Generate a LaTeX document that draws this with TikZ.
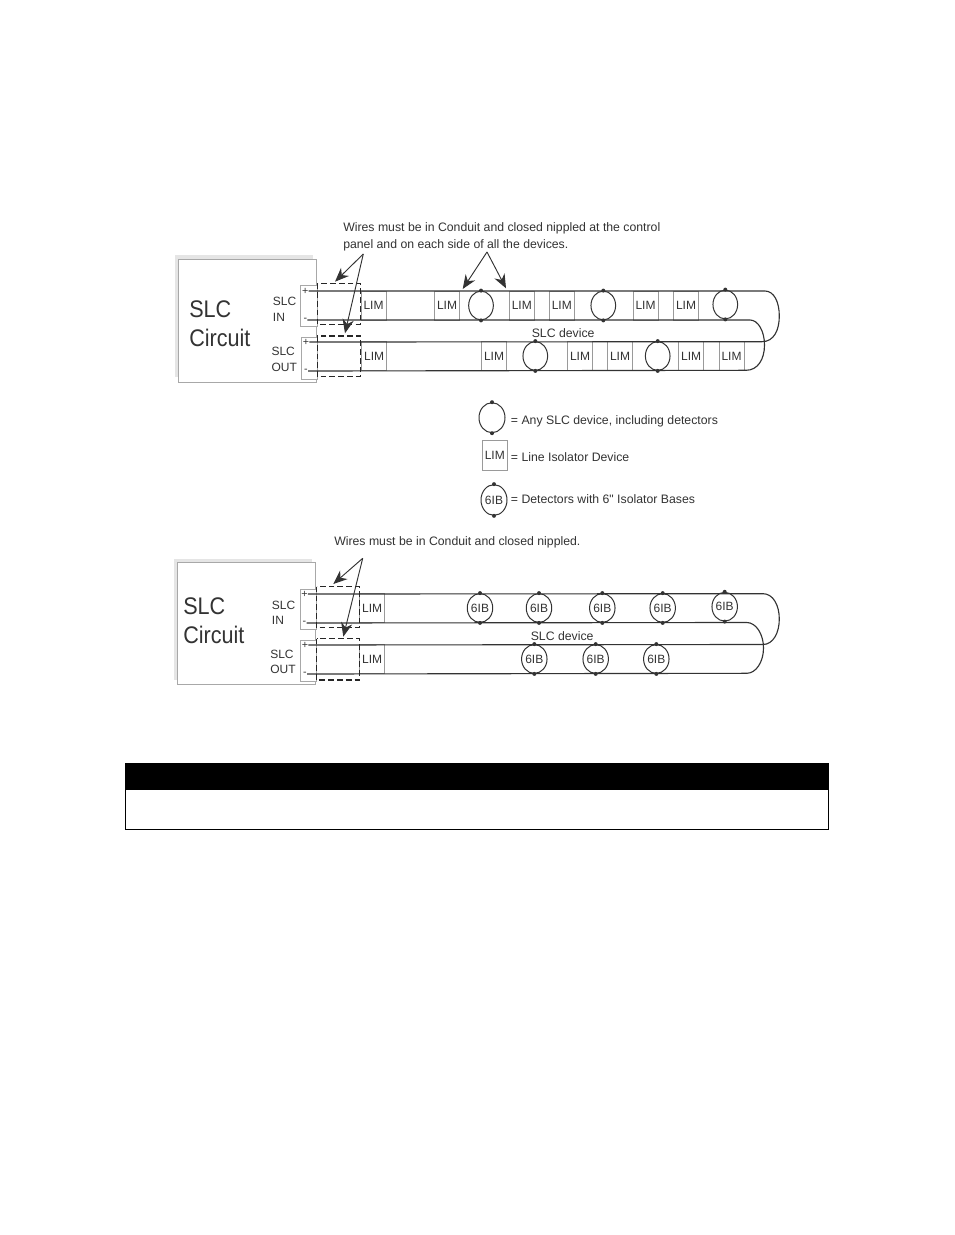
\documentclass[tikz,border=0pt]{standalone}
\usepackage{fontspec}
\setmainfont{Liberation Sans}
\newfontfamily\plainfont{Liberation Sans}
\newfontfamily\tallfont[FakeStretch=0.9]{Liberation Sans}
\usetikzlibrary{shapes.geometric,arrows.meta}
\definecolor{ink}{HTML}{333333}
\definecolor{soft}{HTML}{A8A8A8}
\definecolor{limline}{HTML}{9A9A9A}
\newcommand{\fs}[1]{\fontsize{#1}{#1}\selectfont}
\tikzset{
  x=0.75pt,y=-0.75pt,
  panel/.style={draw=soft,fill=white,line width=0.75pt},
  shadow/.style={fill=black!10,draw=none},
  term/.style={draw=soft,fill=white,line width=0.6pt},
  wire/.style={draw=ink,line width=0.85pt},
  conduit/.style={draw=black!85,line width=1.1pt,dash pattern=on 4.3pt off 2.3pt},
  pointer/.style={draw=ink,line width=0.7pt,-{Stealth[length=10.5pt,width=8.5pt]}},
  limbox/.style={draw=limline,line width=0.6pt,minimum width=18.75pt,minimum height=21.6pt,inner sep=0pt,text=ink,font=\fs{9}},
  dev/.style={ellipse,draw=ink,line width=0.75pt,minimum width=18.5pt,minimum height=21.6pt,inner sep=0pt,text=ink,font=\fs{9}},
  lbl/.style={anchor=west,inner sep=0pt,text=ink},
  big/.style={lbl,font=\tallfont\fs{18}},
  small/.style={lbl,font=\fs{9}},
  note/.style={lbl,font=\fs{9.2}},
  sign/.style={inner sep=0pt,text=ink,font=\fs{8}},
  dot/.style={circle,fill=ink,inner sep=0pt,minimum size=3pt},
}
\newcommand{\devdots}[1]{\node[dot] (#1t) at (#1.north) {};\node[dot] (#1b) at (#1.south) {};}
\begin{document}
\begin{tikzpicture}
\useasboundingbox (0,0) rectangle (954,1235);
\fill[white] (0,0) rectangle (954,1235);

% ---------- upper diagram
\fill[shadow] (175,255) rectangle (313,377);
\draw[panel] (178.7,259.3) rectangle (316.7,382.3);
\draw[term] (300.7,285) rectangle (317,326);
\draw[term] (301.7,337.7) rectangle (317,379);
\node[big] (a1) at (189,309) {SLC};
\node[big] (a2) at (189,338) {Circuit};
\node[small] (a3) at (272.7,301) {SLC};
\node[small] (a4) at (272.7,317) {IN};
\node[small] (a5) at (271.3,351) {SLC};
\node[small] (a6) at (271.3,367) {OUT};
\node[sign] (ap1) at (305.3,291) {+};
\node[sign] (am1) at (305.3,320) {-};
\node[sign] (ap2) at (306,342) {+};
\node[sign] (am2) at (306,371) {-};

\foreach \n/\cx in {t1/373.5,t2/447,t3/521.8,t4/561.8,t5/645.5,t6/686}{
  \node[limbox] (\n) at (\cx,305.5) {LIM};}
\foreach \n/\cx in {b1/374.2,b2/494,b3/580,b4/620,b5/691.2,b6/731.5}{
  \node[limbox] (\n) at (\cx,356) {LIM};}
\foreach \n/\cx/\cy in {d1/481/305.5,d2/603.3/305.5,d3/725.3/304.5,d4/535.3/356,d5/657.7/356}{
  \node[dev] (\n) at (\cx,\cy) {};}

\coordinate (aw1s) at (ap1.east);
\coordinate (aw2s) at (am1.east);
\coordinate (aw3s) at (ap2.east);
\coordinate (aw4s) at (am2.east);
\coordinate (aw1e) at (765,291);
\coordinate (aw2e) at (750,320);
\coordinate (aw3e) at (762,341.7);
\coordinate (aw4e) at (746,370.3);
\draw[wire] (aw1s) -- (aw1e) .. controls (774,291) and (779.3,302) .. (779.3,316) .. controls (779.3,330) and (774,341.7) .. (aw3e) -- (aw3s);
\draw[wire] (aw2s) -- (aw2e) .. controls (758,320) and (764.5,331) .. (764.5,345) .. controls (764.5,359) and (758,370.3) .. (aw4e) -- (aw4s);
\foreach \n in {d1,d2,d3,d4,d5}{\devdots{\n}}

\node[small,font=\fs{9.2}] (asl) at (531.5,333.3) {SLC device};
\draw[conduit] (317.3,283.3) rectangle (360.3,324.3);
\draw[conduit] (317.3,336) rectangle (360.3,376.7);
\node[note] (an1) at (343,228) {Wires must be in Conduit and closed nippled at the control};
\node[note] (an2) at (343,245) {panel and on each side of all the devices.};
\coordinate (aap) at (363.3,254);
\coordinate (aq1) at (335,281.7);
\coordinate (aq2) at (345,333.3);
\draw[pointer] (aap) -- (aq1);
\draw[pointer] (aap) -- (aq2);
\coordinate (abp) at (487,252);
\coordinate (ar1) at (462.7,289);
\coordinate (ar2) at (506,288.3);
\draw[pointer] (abp) -- (ar1);
\draw[pointer] (abp) -- (ar2);

% ---------- legend
\node[dev,minimum width=19.5pt,minimum height=22.5pt] (k1) at (492,417.7) {};\devdots{k1}
\node[limbox,minimum height=22.2pt] (k2) at (494.8,455.5) {LIM};
\node[dev,minimum width=19.5pt,minimum height=23pt] (k3) at (494,500) {6IB};\devdots{k3}
\node[note] (k1t) at (510.7,421) {= Any SLC device, including detectors};
\node[note] (k2t) at (510.7,457) {= Line Isolator Device};
\node[note] (k3t) at (510.7,499) {= Detectors with 6{\plainfont"} Isolator Bases};

% ---------- lower diagram
\fill[shadow] (174,559) rectangle (312,680);
\draw[panel] (177.3,562.3) rectangle (315.7,684.3);
\draw[term] (300.3,589) rectangle (316,629.3);
\draw[term] (300.7,640.3) rectangle (316,681.7);
\node[big] (c1) at (183,606.7) {SLC};
\node[big] (c2) at (183,635) {Circuit};
\node[small] (c3) at (271.7,605) {SLC};
\node[small] (c4) at (271.7,620) {IN};
\node[small] (c5) at (270,654) {SLC};
\node[small] (c6) at (270,669) {OUT};
\node[sign] (cp1) at (304.5,594) {+};
\node[sign] (cm1) at (304.5,623) {-};
\node[sign] (cp2) at (305,645) {+};
\node[sign] (cm2) at (305,674) {-};

\node[limbox] (l1) at (372.2,608.2) {LIM};
\node[limbox] (l2) at (372.2,659) {LIM};
\foreach \n/\cx/\cy in {e1/480/608,e2/539/608,e3/602.3/608,e4/662.7/608,e5/724.7/606.7,e6/534.3/659,e7/595.7/659,e8/656.3/659}{
  \node[dev] (\n) at (\cx,\cy) {6IB};}

\coordinate (cw1s) at (cp1.east);
\coordinate (cw2s) at (cm1.east);
\coordinate (cw3s) at (cp2.east);
\coordinate (cw4s) at (cm2.east);
\coordinate (cw1e) at (763,593.7);
\coordinate (cw2e) at (746.7,622.5);
\coordinate (cw3e) at (763,644.5);
\coordinate (cw4e) at (746.7,673.3);
\draw[wire] (cw1s) -- (cw1e) .. controls (773,593.7) and (779.3,605) .. (779.3,619) .. controls (779.3,633) and (773,644.5) .. (cw3e) -- (cw3s);
\draw[wire] (cw2s) -- (cw2e) .. controls (756,622.5) and (763.5,634) .. (763.5,648) .. controls (763.5,662) and (756,673.3) .. (cw4e) -- (cw4s);
\foreach \n in {e1,e2,e3,e4,e5,e6,e7,e8}{\devdots{\n}}

\node[small,font=\fs{9.2}] (csl) at (530.5,636) {SLC device};
\draw[conduit] (316.7,586.7) rectangle (359.3,627.7);
\draw[conduit] (316.7,638.7) rectangle (359.3,680);
\node[note] (cn1) at (334,542) {Wires must be in Conduit and closed nippled.};
\coordinate (cap) at (362.7,558.3);
\coordinate (cq1) at (333.3,584);
\coordinate (cq2) at (343.3,636.7);
\draw[pointer] (cap) -- (cq1);
\draw[pointer] (cap) -- (cq2);

% ---------- empty table
\draw[black,line width=0.75pt] (125.5,763) rectangle (828.7,829);
\fill[black] (125.2,762.7) rectangle (829,790);
\end{tikzpicture}
\end{document}
